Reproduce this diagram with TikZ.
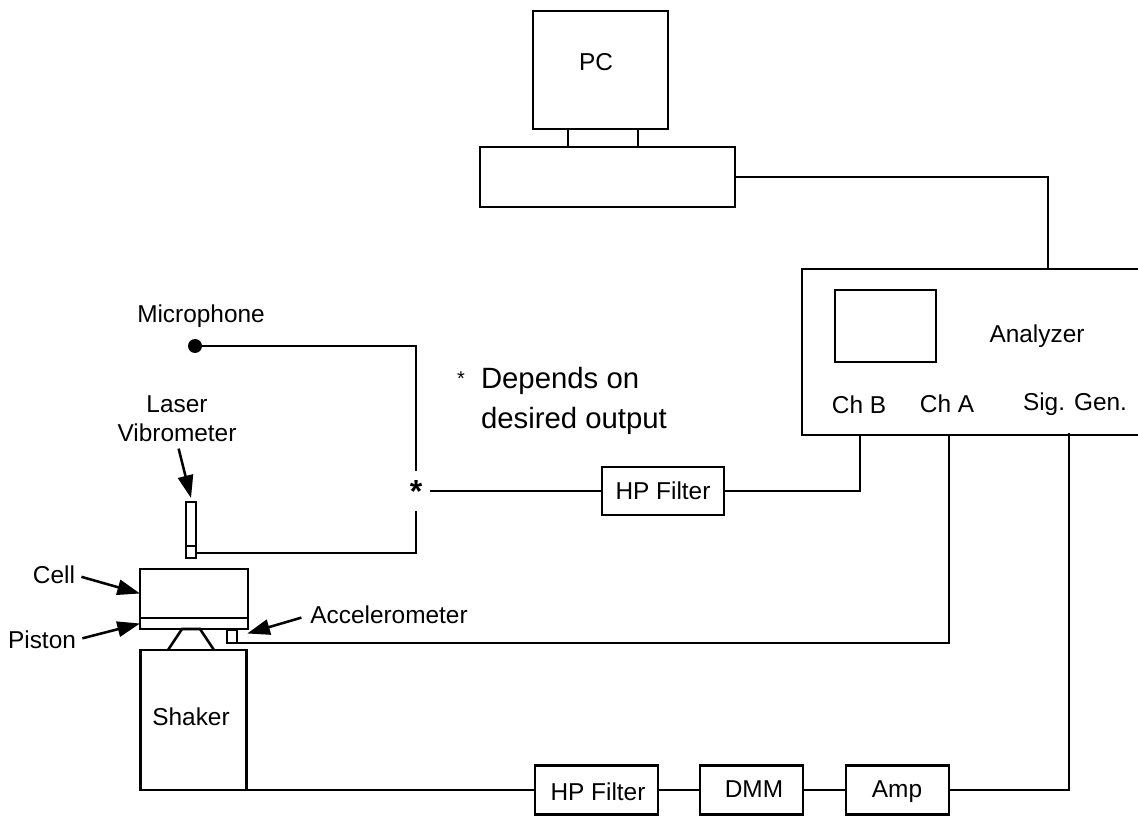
\documentclass[tikz,border=0pt]{standalone}
\usepackage{fontspec}
\setmainfont{Liberation Sans}
\usetikzlibrary{arrows.meta}

\begin{document}
\begin{tikzpicture}[
    x=0.75pt, y=-0.75pt,
    devbox/.style 2 args={draw, line width=1.9pt, inner sep=0pt, outer sep=0pt,
                     minimum width=#1*0.75pt, minimum height=#2*0.75pt},
    lbl/.style={inner sep=0pt, outer sep=0pt, font=\fontsize{18.3}{22}\selectfont},
    wire/.style={line width=1.9pt},
    pointer/.style={-{Triangle[length=17pt, width=11.5pt]}, line width=1.9pt}
]
    \useasboundingbox (0,0) rectangle (1138,816);

    % computer
    \node[devbox={135}{118}] (monitor) at (600.5, 70) {};
    \node[devbox={70}{18}]   (stand)   at (603, 138) {};
    \node[devbox={255}{60}]  (base)    at (607.5, 177) {};
    \node[lbl] (pclbl) at (596, 62) {PC};

    % analyzer, runs off the right side
    \node[devbox={345}{166}] (analyzer) at (974.5, 352) {};
    \node[devbox={101}{72}]  (screen)   at (885.5, 326) {};
    \node[lbl] (analbl) at (1037, 336) {Analyzer};
    \node[lbl] (chb)    at (859, 405) {Ch B};
    \node[lbl] (cha)    at (947, 404) {Ch A};
    \node[lbl] (siggen) at (1075, 404) {Sig. Gen.};
    \coordinate (anatop) at (1048, 269);
    \coordinate (chbin)  at (860, 435);
    \coordinate (chain)  at (949, 435);
    \coordinate (sigout) at (1069, 433);

    % sensors
    \node[circle, fill=black, inner sep=0pt, minimum size=10.5pt] (mic) at (195, 346) {};
    \node[lbl] (miclbl) at (201, 316) {Microphone};
    \node[lbl, align=center] (laser) at (177, 419) {Laser\\Vibrometer};
    \node[devbox={10}{56}] (vib) at (191, 530) {};
    \draw[wire] (vib.west |- 0,546) -- (vib.east |- 0,546);
    \coordinate (vibout) at (196, 553);

    % switch point and note
    \node[inner sep=0pt, outer sep=0pt, minimum width=21pt, minimum height=30pt,
          font=\bfseries\fontsize{24}{24}\selectfont] (star) at (416, 491) {\raisebox{-9pt}{*}};
    \node[lbl, font=\fontsize{15}{15}\selectfont] (notestar) at (461, 379) {*};
    \node[lbl, align=left, anchor=west, font=\fontsize{22}{30}\selectfont] (note) at (481, 401)
        {Depends on\\desired output};

    % shaker stack
    \node[devbox={108}{49}] (cell)   at (194, 593.5) {};
    \node[devbox={108}{11}] (piston) at (194, 623.5) {};
    \node[devbox={106}{140}] (shaker) at (193.5, 720) {};
    \node[devbox={10}{13}]  (accel)  at (232, 636.5) {};
    \draw[wire] (168,650) -- (182,629) -- (200,629) -- (214,650);
    \coordinate (shout) at (246.5, 790);
    \node[lbl] (shakerlbl) at (191, 717) {Shaker};
    \node[lbl] (celllbl)   at (54, 575) {Cell};
    \node[lbl] (pistonlbl) at (42, 640) {Piston};
    \node[lbl] (acclbl)    at (389, 615) {Accelerometer};

    % signal chain boxes
    \node[devbox={122}{48}, lbl] (hpa) at (663, 491) {HP Filter};
    \node[devbox={123}{49}] (hpb) at (596.5, 790) {};
    \node[devbox={103}{49}] (dmm) at (751.5, 790) {};
    \node[devbox={103}{49}] (amp) at (897.5, 790) {};
    \node[lbl] (hpblbl)  at (598, 792) {HP Filter};
    \node[lbl] (dmmlbl)  at (754, 789) {DMM};
    \node[lbl] (amplbl)  at (897, 792) {Amp};

    \draw[wire] (base.east) -| (anatop);
    \draw[wire] (mic.east) -| (star.north);
    \draw[wire] (vibout) -| (star.south);
    \draw[wire] (star.east) -- (hpa.west);
    \draw[wire] (hpa.east) -| (chbin);
    \draw[wire] (accel.south east) -| (chain);
    \draw[wire] (shout) -- (hpb.west);
    \draw[wire] (hpb.east) -- (dmm.west);
    \draw[wire] (dmm.east) -- (amp.west);
    \draw[wire] (amp.east) -| (sigout);

    \draw[pointer, shorten <=5pt] (laser.south) -- ([yshift=3pt]vib.north);
    \draw[pointer, shorten <=5pt] (celllbl.east) -- (cell.west);
    \draw[pointer, shorten <=5pt] (pistonlbl.east) -- (piston.west);
    \draw[pointer, shorten <=7pt, shorten >=8pt] (acclbl.west) -- (accel.east);
\end{tikzpicture}
\end{document}
